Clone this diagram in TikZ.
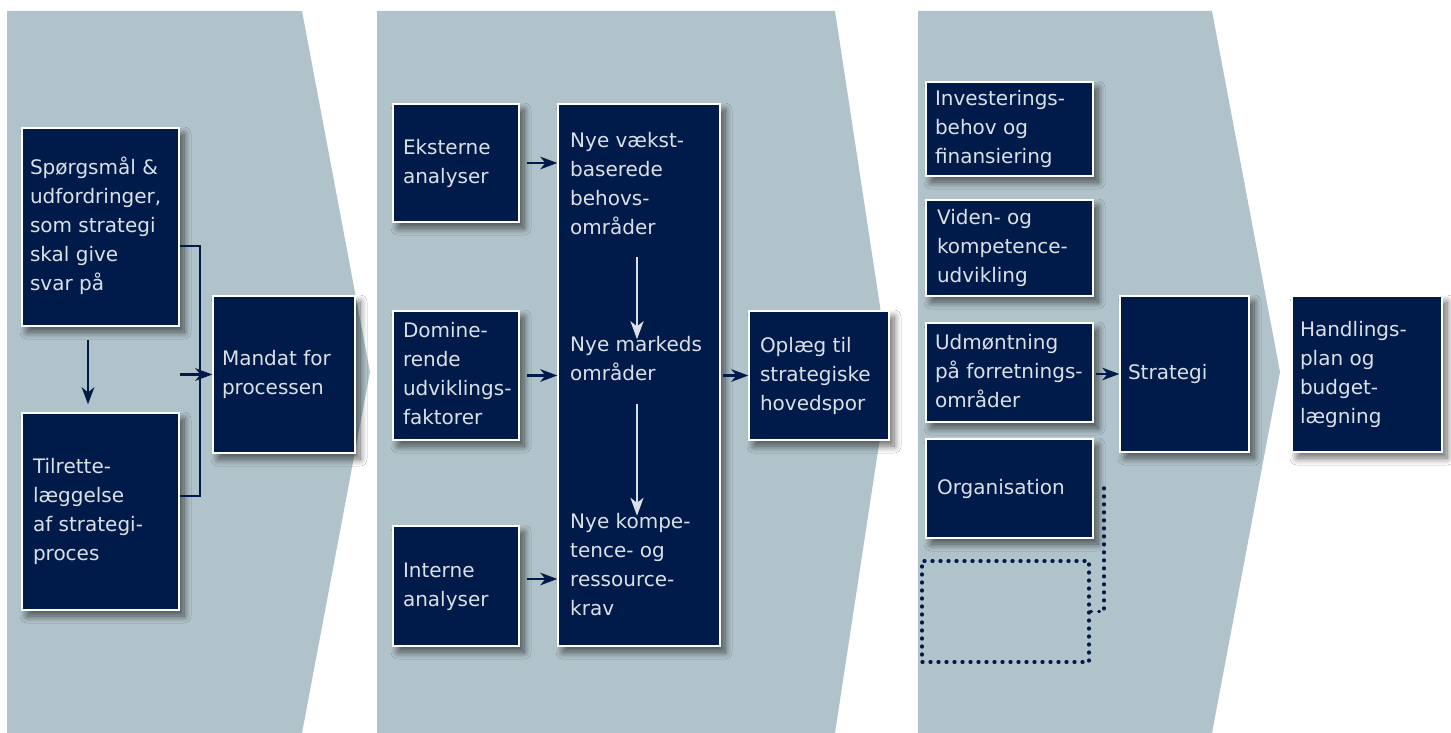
\documentclass[tikz,border=0pt]{standalone}
\usepackage{fontspec}
\setmainfont{DejaVu Sans}
\usetikzlibrary{arrows.meta,shadows.blur}

\definecolor{chev}{RGB}{177,195,202}
\definecolor{navy}{RGB}{0,26,74}
\definecolor{ink}{RGB}{218,225,230}

% left-aligned block of lines with a fixed reported width
\newcommand\boxtext[2]{\makebox[#1][l]{\begin{tabular}{@{}l@{}}#2\end{tabular}}}

\tikzset{
  chevron/.style={fill=chev, draw=none},
  box/.style={draw=white, line width=1.3pt, fill=navy, text=ink,
    font=\fontsize{20}{29}\selectfont, inner ysep=0pt, inner xsep=9pt,
    blur shadow={shadow xshift=5pt, shadow yshift=-6pt,
      shadow blur radius=7pt, shadow opacity=60, shadow blur steps=12}},
  innertext/.style={text=ink, font=\fontsize{20}{29}\selectfont,
    inner sep=0pt, anchor=west},
  spare/.style={draw=navy, line width=3.2pt, dash pattern=on 1pt off 7pt,
    line cap=round, fill=none, inner sep=0pt},
  link/.style={draw=navy, line width=2.4pt,
    -{Stealth[length=17pt,width=12.5pt,inset=5pt]}},
  bracket/.style={draw=navy, line width=2.4pt},
  innerlink/.style={draw=ink, line width=2.4pt,
    -{Stealth[length=18pt,width=13pt,inset=5pt]}},
  dotlink/.style={draw=navy, line width=3.2pt, dash pattern=on 1pt off 7pt,
    line cap=round}
}

\begin{document}
\begin{tikzpicture}[x=1pt,y=-1pt]
  \useasboundingbox (0,0) rectangle (1451,733);
  \fill[white] (0,0) rectangle (1451,733);

  % three phase chevrons
  \fill[chevron] (7,11) -- (302,11) -- (370,372) -- (302,733) -- (7,733) -- cycle;
  \fill[chevron] (377,11) -- (835,11) -- (890,372) -- (835,733) -- (377,733) -- cycle;
  \fill[chevron] (918,11) -- (1212,11) -- (1280,372) -- (1212,733) -- (918,733) -- cycle;

  % phase 1
  \node[box, minimum width=157pt, minimum height=198pt, inner xsep=8pt] (ask) at (100.5,227)
    {\boxtext{141pt}{Spørgsmål \&\\udfordringer,\\som strategi\\skal give\\svar på}};
  \node[box, minimum width=157pt, minimum height=197pt, inner xsep=11pt] (prep) at (100.5,511.5)
    {\boxtext{135pt}{Tilrette-\\læggelse\\af strategi-\\proces}};
  \node[box, minimum width=142pt, minimum height=157pt, inner xsep=9pt] (mandate) at (284,374.5)
    {\boxtext{124pt}{Mandat for\\processen}};

  % phase 2
  \node[box, minimum width=126pt, minimum height=118pt, inner xsep=10pt] (ext) at (456,163)
    {\boxtext{106pt}{Eksterne\\analyser}};
  \node[box, minimum width=126pt, minimum height=129pt, inner xsep=10pt] (dom) at (456,375.5)
    {\boxtext{106pt}{Domine-\\rende\\udviklings-\\faktorer}};
  \node[box, minimum width=126pt, minimum height=120pt, inner xsep=10pt] (int) at (456,586)
    {\boxtext{106pt}{Interne\\analyser}};
  \node[box, minimum width=162pt, minimum height=542pt] (big) at (639,375) {};
  \node[innertext] (need) at (570,185)
    {\begin{tabular}{@{}l@{}}Nye vækst-\\baserede\\behovs-\\områder\end{tabular}};
  \node[innertext] (market) at (570,360.5)
    {\begin{tabular}{@{}l@{}}Nye markeds\\områder\end{tabular}};
  \node[innertext] (skills) at (570,566)
    {\begin{tabular}{@{}l@{}}Nye kompe-\\tence- og\\ressource-\\krav\end{tabular}};
  \node[box, minimum width=140pt, minimum height=129pt, inner xsep=11pt] (plan) at (819,375.5)
    {\boxtext{118pt}{Oplæg til\\strategiske\\hovedspor}};

  % phase 3
  \node[box, minimum width=167pt, minimum height=94pt, inner xsep=9pt] (inv) at (1009.5,129)
    {\boxtext{149pt}{Investerings-\\behov og\\finansiering}};
  \node[box, minimum width=167pt, minimum height=96pt, inner xsep=11pt] (know) at (1009.5,248)
    {\boxtext{145pt}{Viden- og\\kompetence-\\udvikling}};
  \node[box, minimum width=167pt, minimum height=99pt, inner xsep=9pt] (impl) at (1009.5,372.5)
    {\boxtext{149pt}{Udmøntning\\på forretnings-\\områder}};
  \node[box, minimum width=167pt, minimum height=99pt, inner xsep=11pt] (org) at (1009.5,488.5)
    {\boxtext{145pt}{Organisation}};
  \node[spare, minimum width=167pt, minimum height=101pt] (extra) at (1005.5,611.5) {};
  \node[box, minimum width=129pt, minimum height=156pt, inner xsep=8pt] (strat) at (1184.5,374)
    {\boxtext{113pt}{Strategi}};

  % outcome
  \node[box, minimum width=150pt, minimum height=156pt, inner xsep=8pt] (action) at (1367,374)
    {\boxtext{134pt}{Handlings-\\plan og\\budget-\\lægning}};

  % connectors, phase 1
  \coordinate (jn1) at (200,246);
  \coordinate (jn2) at (200,496);
  \draw[bracket] ([yshift=-19pt]ask.east) -- (jn1) -- (jn2) -- ([yshift=15.5pt]prep.east);
  \draw[link] (mandate.west -| ask.east) -- (mandate.west);
  \draw[link, shorten <=13pt, shorten >=8pt] ([xshift=-12.5pt]ask.south) -- ([xshift=-12.5pt]prep.north);

  % connectors, phase 2
  \draw[link, shorten <=7pt] (ext.east) -- (ext.east -| big.west);
  \draw[link, shorten <=7pt] (dom.east) -- (dom.east -| big.west);
  \coordinate (intout) at ([yshift=7pt]int.east);
  \draw[link, shorten <=7pt] (intout) -- (intout -| big.west);
  \draw[link, shorten <=2pt] (big.east |- plan.west) -- (plan.west);
  \coordinate (ax) at (637,0);
  \draw[innerlink, shorten <=14pt, shorten >=-8pt] (need.south -| ax) -- (market.north -| ax);
  \draw[innerlink, shorten <=14pt, shorten >=-8pt] (market.south -| ax) -- (skills.north -| ax);

  % connectors, phase 3
  \draw[link, shorten <=2pt] (impl.east |- strat.west) -- (strat.west);
  \coordinate (orgend) at (1104,484);
  \draw[dotlink] (extra.east) -| (orgend);
\end{tikzpicture}
\end{document}
